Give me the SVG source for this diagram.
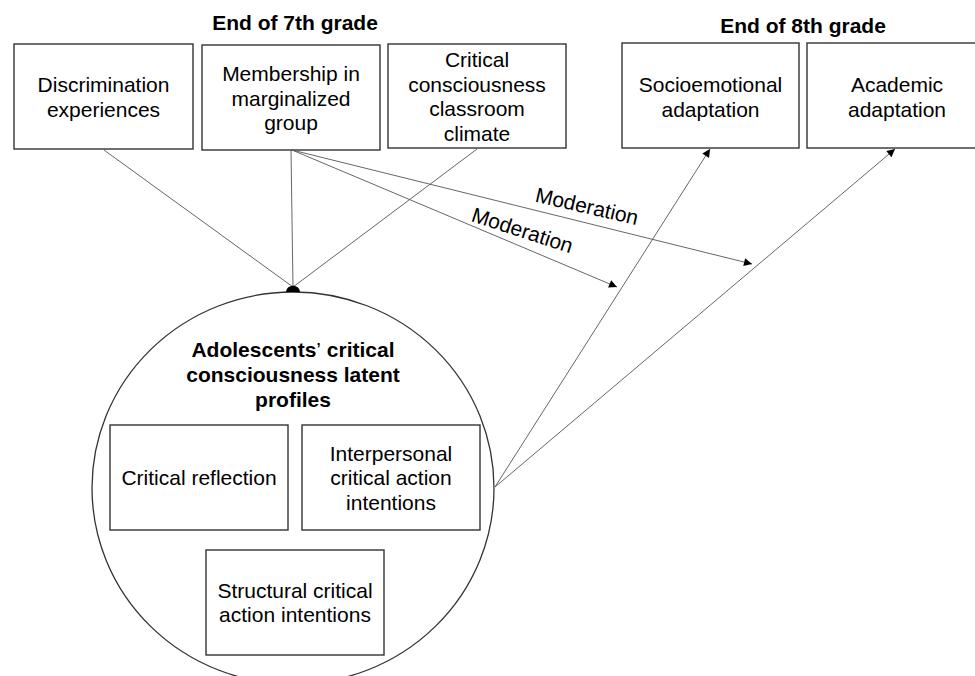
<svg xmlns="http://www.w3.org/2000/svg" width="975" height="676" viewBox="0 0 975 676">
<defs>
<style>
.box{fill:#fff;stroke:#333;stroke-width:1.4}
.t{font-family:"Liberation Sans",Arial,sans-serif;font-size:21px;fill:#000;text-anchor:middle}
.b{font-weight:bold}
.ln{fill:none;stroke:#555;stroke-width:0.9}
.circ{fill:none;stroke:#333;stroke-width:1.3}
</style>
<marker id="ah" viewBox="0 0 10 10" refX="10" refY="5" markerWidth="10" markerHeight="8" markerUnits="userSpaceOnUse" orient="auto">
<path d="M0,0 L10,5 L0,10 Z" fill="#000"/>
</marker>
</defs>
<rect width="975" height="676" fill="#fff"/>

<g id="titles">
<text class="t b" x="295" y="30">End of 7th grade</text>
<text class="t b" x="803" y="33">End of 8th grade</text>
</g>

<g id="profiles">
<ellipse class="circ" cx="293" cy="488" rx="201" ry="196"/>
<text class="t b" x="293" y="357">Adolescents<tspan font-weight="normal">’</tspan> critical</text>
<text class="t b" x="293" y="382">consciousness latent</text>
<text class="t b" x="293" y="407">profiles</text>
</g>

<g id="discrimination">
<rect class="box" x="14" y="44" width="179" height="105"/>
<text class="t" x="103.5" y="92">Discrimination</text>
<text class="t" x="103.5" y="116.5">experiences</text>
</g>

<g id="membership">
<rect class="box" x="202" y="45" width="178" height="105"/>
<text class="t" x="291" y="81">Membership in</text>
<text class="t" x="291" y="105.5">marginalized</text>
<text class="t" x="291" y="130">group</text>
</g>

<g id="climate">
<rect class="box" x="388" y="44" width="178" height="104"/>
<text class="t" x="477" y="67">Critical</text>
<text class="t" x="477" y="91.5">consciousness</text>
<text class="t" x="477" y="116">classroom</text>
<text class="t" x="477" y="140.5">climate</text>
</g>

<g id="socioemotional">
<rect class="box" x="622" y="43" width="177" height="105"/>
<text class="t" x="710.5" y="92">Socioemotional</text>
<text class="t" x="710.5" y="116.5">adaptation</text>
</g>

<g id="academic">
<rect class="box" x="807" y="43" width="180" height="105"/>
<text class="t" x="897" y="92">Academic</text>
<text class="t" x="897" y="116.5">adaptation</text>
</g>

<g id="critical-reflection">
<rect class="box" x="110" y="425" width="178" height="105"/>
<text class="t" x="199" y="485">Critical reflection</text>
</g>

<g id="interpersonal">
<rect class="box" x="302" y="425" width="178" height="105"/>
<text class="t" x="391" y="460.5">Interpersonal</text>
<text class="t" x="391" y="485">critical action</text>
<text class="t" x="391" y="509.5">intentions</text>
</g>

<g id="structural">
<rect class="box" x="206" y="550" width="178" height="105"/>
<text class="t" x="295" y="597.5">Structural critical</text>
<text class="t" x="295" y="622">action intentions</text>
</g>

<g id="connectors">
<line class="ln" x1="104" y1="150" x2="293" y2="287"/>
<line class="ln" x1="291" y1="150" x2="293" y2="287"/>
<line class="ln" x1="477" y1="149" x2="293" y2="287"/>
<path d="M286,292 C286.5,283.5 299.5,283.5 300,292 Z" fill="#000"/>
<line class="ln" x1="292" y1="150" x2="617" y2="287" marker-end="url(#ah)"/>
<line class="ln" x1="292" y1="150" x2="752" y2="264" marker-end="url(#ah)"/>
<line class="ln" x1="495" y1="487" x2="710" y2="149" marker-end="url(#ah)"/>
<line class="ln" x1="495" y1="487" x2="895" y2="149" marker-end="url(#ah)"/>
<text class="t" transform="translate(587,206) rotate(13)" x="0" y="7.5">Moderation</text>
<text class="t" transform="translate(522.5,230) rotate(18)" x="0" y="7.5">Moderation</text>
</g>
</svg>
